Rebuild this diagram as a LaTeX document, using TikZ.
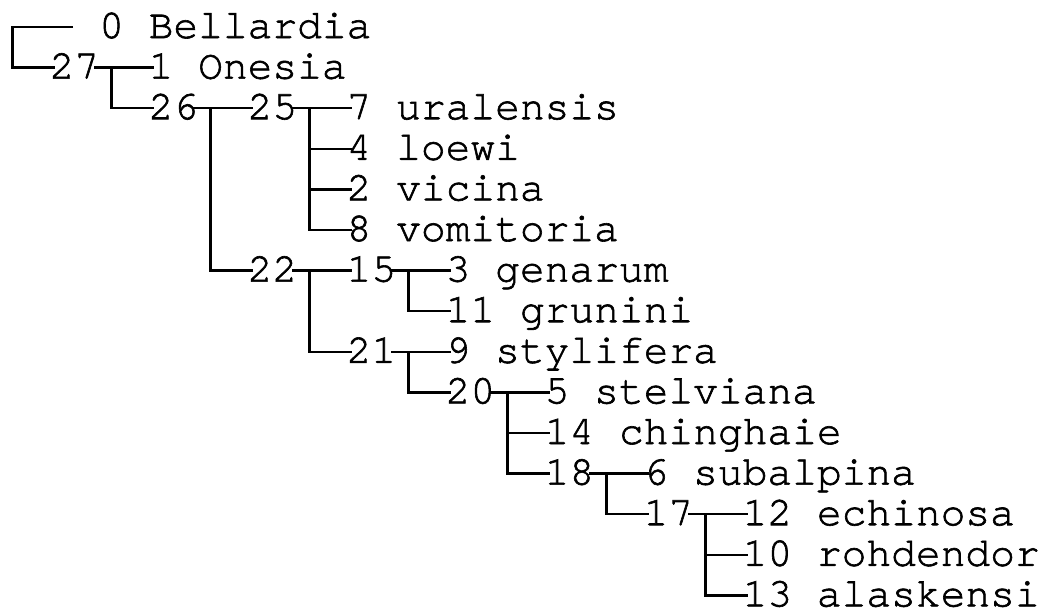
\documentclass[tikz,border=0pt]{standalone}
\usepackage{fontspec}
\newfontfamily\cursorfont[FakeBold=1.5]{TeX Gyre Cursor}
\begin{document}
\begin{tikzpicture}[x=1pt,y=1pt,
  lbl/.style={anchor=base west, font=\cursorfont\fontsize{41.25}{41.25}\selectfont,
    inner xsep=-5pt, inner ysep=0pt, text height=22pt, text depth=0pt},
  conn/.style={line width=2.4pt, line cap=butt, line join=miter}]
\useasboundingbox (0,0) rectangle (1042,-613);
% labels
\node[lbl] (t0)  at (104,-38)     {0 Bellardia};
\node[lbl] (n27) at (54.5,-78.6)  {27};
\node[lbl] (t1)  at (153.5,-78.6) {1 Onesia};
\node[lbl] (n26) at (153.5,-119.2) {26};
\node[lbl] (n25) at (252.5,-119.2) {25};
\node[lbl] (t7)  at (351.5,-119.2) {7 uralensis};
\node[lbl] (t4)  at (351.5,-159.8) {4 loewi};
\node[lbl] (t2)  at (351.5,-200.4) {2 vicina};
\node[lbl] (t8)  at (351.5,-241)   {8 vomitoria};
\node[lbl] (n22) at (252.5,-281.6) {22};
\node[lbl] (n15) at (351.5,-281.6) {15};
\node[lbl] (t3)  at (450.5,-281.6) {3 genarum};
\node[lbl] (t11) at (450.5,-322.2) {11 grunini};
\node[lbl] (n21) at (351.5,-362.8) {21};
\node[lbl] (t9)  at (450.5,-362.8) {9 stylifera};
\node[lbl] (n20) at (450.5,-403.4) {20};
\node[lbl] (t5)  at (549.5,-403.4) {5 stelviana};
\node[lbl] (t14) at (549.5,-444)   {14 chinghaie};
\node[lbl] (n18) at (549.5,-484.6) {18};
\node[lbl] (t6)  at (648.5,-484.6) {6 subalpina};
\node[lbl] (n17) at (648.5,-525.2) {17};
\node[lbl] (t12) at (747.5,-525.2) {12 echinosa};
\node[lbl] (t10) at (747.5,-565.8) {10 rohdendor};
\node[lbl] (t13) at (747.5,-606.4) {13 alaskensi};
% junctions
\coordinate (root) at (12.375,-47);
\coordinate (j27) at (111.375,-67.6);
\coordinate (j26) at (210.375,-108.2);
\coordinate (j25) at (309.375,-108.2);
\coordinate (j22) at (309.375,-270.6);
\coordinate (j15) at (408.375,-270.6);
\coordinate (j21) at (408.375,-351.8);
\coordinate (j20) at (507.375,-392.4);
\coordinate (j18) at (606.375,-473.6);
\coordinate (j17) at (705.375,-514.2);
% connectors
\draw[conn, shorten <=31pt] (t0.west) -| (root) |- (n27.west);
\draw[conn] (n27.east) -- (t1.west);
\draw[conn] (j27) |- (n26.west);
\draw[conn] (n26.east) -- (n25.west);
\draw[conn] (j26) |- (n22.west);
\draw[conn] (n25.east) -- (t7.west);
\draw[conn] (j25) |- (t4.west);
\draw[conn] (j25) |- (t2.west);
\draw[conn] (j25) |- (t8.west);
\draw[conn] (n22.east) -- (n15.west);
\draw[conn] (j22) |- (n21.west);
\draw[conn] (n15.east) -- (t3.west);
\draw[conn] (j15) |- (t11.west);
\draw[conn] (n21.east) -- (t9.west);
\draw[conn] (j21) |- (n20.west);
\draw[conn] (n20.east) -- (t5.west);
\draw[conn] (j20) |- (t14.west);
\draw[conn] (j20) |- (n18.west);
\draw[conn] (n18.east) -- (t6.west);
\draw[conn] (j18) |- (n17.west);
\draw[conn] (n17.east) -- (t12.west);
\draw[conn] (j17) |- (t10.west);
\draw[conn] (j17) |- (t13.west);
\end{tikzpicture}
\end{document}
